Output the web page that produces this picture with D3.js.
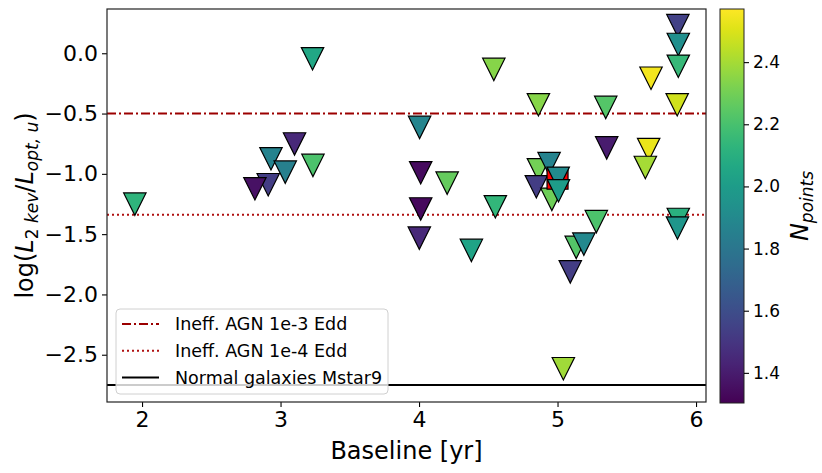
<!DOCTYPE html>
<html>
<head>
<meta charset="utf-8">
<script src="https://cdn.jsdelivr.net/npm/d3@7"></script>
<style>
  body { margin: 0; background: #fff; }
  text { font-family: "DejaVu Sans", sans-serif; fill: #000; }
</style>
</head>
<body>
<script>
// values
var baseline = [1.948, 3.231, 3.101, 2.931, 3.234, 3.034, 2.911, 2.815, 5.869, 5.872,
    5.872, 5.675, 4.540, 5.864, 4.862, 5.348, 4.004, 5.355, 5.658, 5.634,
    4.012, 4.203, 4.862, 4.939, 4.847, 4.959, 4.012, 4.002, 4.551, 4.378,
    5.280, 5.135, 5.190, 5.092, 5.042, 5.872, 5.866, 5.005, 5.007];
var logRatio = [-1.251, -0.046, -0.752, -0.875, -0.930, -0.986, -1.090, -1.124, 0.229, 0.073,
    -0.108, -0.207, -0.134, -0.427, -0.427, -0.449, -0.615, -0.785, -0.798, -0.947,
    -0.991, -1.077, -0.966, -0.915, -1.107, -1.212, -1.291, -1.533, -1.273, -1.635,
    -1.396, -1.610, -1.583, -1.813, -2.616, -1.378, -1.449, -1.037, -1.140];
var nPoints = [2.13, 2.06, 1.45, 1.87, 2.21, 1.85, 1.53, 1.36, 1.55, 1.93,
    2.15, 2.55, 2.34, 2.48, 2.34, 2.23, 1.88, 1.40, 2.53, 2.40,
    1.34, 2.27, 2.30, 1.87, 1.53, 2.29, 1.33, 1.45, 2.14, 2.04,
    2.21, 2.23, 1.90, 1.53, 2.39, 2.11, 1.97, 1.91, 2.00];

// the red square hidden in the cluster near 5 yr
var specialX = [5.0];
var specialY = [-1.04];

var refNames = ['Ineff. AGN 1e-3 Edd', 'Ineff. AGN 1e-4 Edd', 'Normal galaxies Mstar9'];
var refLevels = [-0.5, -1.34, -2.75];
var refColors = ['#9b0000', '#b01010', '#000000'];
var refDash = ['9,3,2,3', '2,3', null];

var xTicks = [2, 3, 4, 5, 6];
var yTicks = [-2.5, -2.0, -1.5, -1.0, -0.5, 0.0];
var cbTicks = [1.4, 1.6, 1.8, 2.0, 2.2, 2.4];

var W = 822, H = 473;
var plot = { left: 107, right: 706, top: 9, bottom: 402 };
var cb = { left: 720, right: 744, top: 9, bottom: 403 };

var xScale = d3.scaleLinear().domain([1.747, 6.072]).range([plot.left, plot.right]);
var yScale = d3.scaleLinear().domain([-2.892, 0.367]).range([plot.bottom, plot.top]);
var cScale = d3.scaleSequential(d3.interpolateViridis).domain([1.303, 2.571]);
var cbScale = d3.scaleLinear().domain([1.303, 2.571]).range([cb.bottom, cb.top]);

var fmt = function (d) { return d3.format('.1f')(d).replace('-', '\u2212'); };

var svg = d3.select('body').append('svg')
    .attr('width', W)
    .attr('height', H);

var defs = svg.append('defs');
defs.append('clipPath').attr('id', 'clip')
    .append('rect')
    .attr('x', plot.left).attr('y', plot.top)
    .attr('width', plot.right - plot.left).attr('height', plot.bottom - plot.top);

var grad = defs.append('linearGradient').attr('id', 'viridis')
    .attr('x1', 0).attr('y1', 1).attr('x2', 0).attr('y2', 0);
d3.range(0, 1.0001, 0.05).forEach(function (t) {
    grad.append('stop').attr('offset', t).attr('stop-color', d3.interpolateViridis(t));
});

var g = svg.append('g').attr('clip-path', 'url(#clip)');

// reference lines
g.selectAll('.ref').data(refLevels).enter().append('line')
    .attr('class', 'ref')
    .attr('x1', plot.left).attr('x2', plot.right)
    .attr('y1', function (d) { return yScale(d); })
    .attr('y2', function (d) { return yScale(d); })
    .attr('stroke', function (d, i) { return refColors[i]; })
    .attr('stroke-width', 2)
    .attr('stroke-dasharray', function (d, i) { return refDash[i]; });

// triangles
var pts = baseline.map(function (b, i) { return { x: b, y: logRatio[i], n: nPoints[i], i: i }; });
var tri = 'M-11.2,-11.2L11.2,-11.2L0,11.2Z';

var nLast = 2;
var first = pts.slice(0, pts.length - nLast);
var last = pts.slice(pts.length - nLast);

function drawTri(sel) {
    sel.append('path')
        .attr('d', tri)
        .attr('transform', function (d) { return 'translate(' + xScale(d.x) + ',' + yScale(d.y) + ')'; })
        .attr('fill', function (d) { return cScale(d.n); })
        .attr('stroke', '#000')
        .attr('stroke-width', 1.2)
        .attr('stroke-linejoin', 'miter');
}

g.selectAll('.tri1').data(first).enter().call(drawTri);

g.selectAll('.sq').data(specialX).enter().append('rect')
    .attr('x', function (d) { return xScale(d) - 10.5; })
    .attr('y', function (d, i) { return yScale(specialY[i]) - 10.5; })
    .attr('width', 21).attr('height', 21)
    .attr('fill', '#ff0000')
    .attr('stroke', '#000')
    .attr('stroke-width', 1.2);

g.selectAll('.tri2').data(last).enter().call(drawTri);

// axes
var xAxis = svg.append('g')
    .attr('transform', 'translate(0,' + plot.bottom + ')')
    .call(d3.axisBottom(xScale).tickValues(xTicks).tickSize(5).tickPadding(4).tickFormat(d3.format('d')));
var yAxis = svg.append('g')
    .attr('transform', 'translate(' + plot.left + ',0)')
    .call(d3.axisLeft(yScale).tickValues(yTicks).tickSize(5).tickPadding(4).tickFormat(fmt));
[xAxis, yAxis].forEach(function (a) {
    a.select('.domain').remove();
    a.selectAll('line').attr('stroke', '#000').attr('stroke-width', 1.1);
    a.selectAll('text').attr('font-size', 22).attr('font-family', '"DejaVu Sans", sans-serif').attr('fill', '#000');
});

svg.append('rect')
    .attr('x', plot.left).attr('y', plot.top)
    .attr('width', plot.right - plot.left).attr('height', plot.bottom - plot.top)
    .attr('fill', 'none').attr('stroke', '#222').attr('stroke-width', 1.2);

// axis labels
svg.append('text')
    .attr('x', (plot.left + plot.right) / 2)
    .attr('y', 459)
    .attr('text-anchor', 'middle')
    .attr('font-size', 24)
    .text('Baseline [yr]');

var yl = svg.append('text')
    .attr('transform', 'translate(33,' + ((plot.top + plot.bottom) / 2) + ') rotate(-90)')
    .attr('text-anchor', 'middle')
    .attr('font-size', 24);
yl.append('tspan').text('log(');
yl.append('tspan').attr('font-style', 'italic').text('L');
yl.append('tspan').attr('font-size', 17).attr('dy', 5).text('2 ');
yl.append('tspan').attr('font-size', 17).attr('font-style', 'italic').text('kev');
yl.append('tspan').attr('dy', -5).text('/');
yl.append('tspan').attr('font-style', 'italic').text('L');
yl.append('tspan').attr('font-size', 17).attr('font-style', 'italic').attr('dy', 5).text('opt, u');
yl.append('tspan').attr('dy', -5).text(')');

// legend
var leg = svg.append('g');
leg.append('rect')
    .attr('x', 116).attr('y', 309)
    .attr('width', 272).attr('height', 85)
    .attr('rx', 4)
    .attr('fill', '#fff').attr('fill-opacity', 0.8)
    .attr('stroke', '#d0d0d0').attr('stroke-width', 1);
var rows = leg.selectAll('.row').data(refNames).enter().append('g')
    .attr('transform', function (d, i) { return 'translate(0,' + (324 + i * 26.7) + ')'; });
rows.append('line')
    .attr('x1', 122).attr('x2', 159)
    .attr('stroke', function (d, i) { return refColors[i]; })
    .attr('stroke-width', 2)
    .attr('stroke-dasharray', function (d, i) { return refDash[i]; });
rows.append('text')
    .attr('x', 175).attr('dy', '0.35em')
    .attr('font-size', 17.5)
    .text(function (d) { return d; });

// colorbar
svg.append('rect')
    .attr('x', cb.left).attr('y', cb.top)
    .attr('width', cb.right - cb.left).attr('height', cb.bottom - cb.top)
    .attr('fill', 'url(#viridis)')
    .attr('stroke', '#222').attr('stroke-width', 1);
var cbAxis = svg.append('g')
    .attr('transform', 'translate(' + cb.right + ',0)')
    .call(d3.axisRight(cbScale).tickValues(cbTicks).tickSize(5).tickPadding(4).tickFormat(d3.format('.1f')));
cbAxis.select('.domain').remove();
cbAxis.selectAll('line').attr('stroke', '#000').attr('stroke-width', 1.1);
cbAxis.selectAll('text').attr('font-size', 17).attr('font-family', '"DejaVu Sans", sans-serif').attr('fill', '#000');

var cl = svg.append('text')
    .attr('transform', 'translate(808,' + ((cb.top + cb.bottom) / 2) + ') rotate(-90)')
    .attr('text-anchor', 'middle')
    .attr('font-size', 24);
cl.append('tspan').attr('font-style', 'italic').text('N');
cl.append('tspan').attr('font-style', 'italic').attr('font-size', 17).attr('dy', 5).text('points');
</script>
</body>
</html>
